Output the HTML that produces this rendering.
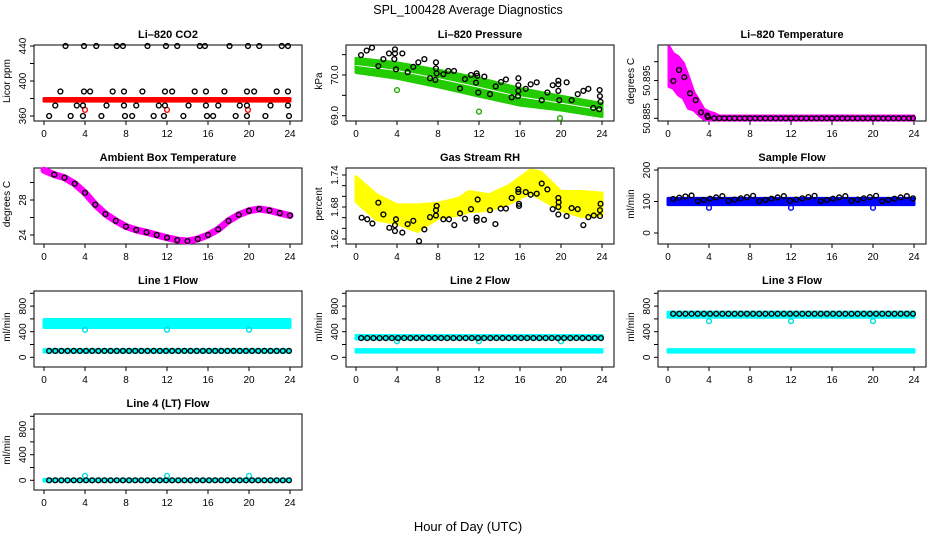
<!DOCTYPE html>
<html><head><meta charset="utf-8"><style>
html,body{margin:0;padding:0;background:#fff;}
svg{display:block;font-family:"Liberation Sans",sans-serif;}
</style></head><body>
<svg id="c" width="936" height="540" viewBox="0 0 936 540">
<text x="468" y="14" text-anchor="middle" font-size="12.5">SPL_100428  Average Diagnostics</text>
<text x="468" y="531" text-anchor="middle" font-size="13">Hour of Day (UTC)</text>
</svg>
<script>
// ---- data ----
const xTicks = [0,4,8,12,16,20,24];
// CO2
const co2BandHours = [0,24];
const co2BandLow = [377,377];
const co2BandHigh = [380,380];
const co2Hours = [2.1,3.9,5.1,7.1,7.7,10.1,11.9,13.0,15.2,15.7,18.1,19.9,21.0,23.2,23.8, 1.6,3.9,4.5,6.7,7.8,9.6,11.8,12.5,14.7,15.8,17.6,19.8,20.5,22.7,23.8, 1.1,3.2,3.8,6.1,7.8,9.0,11.2,11.8,14.1,15.8,17.0,19.1,19.8,22.1,23.8, 0.5,2.6,3.8,5.6,7.9,8.6,10.7,11.7,13.6,15.9,16.5,18.7,19.8,21.6,23.9];
const co2Values = [440,440,440,440,440,440,440,440,440,440,440,440,440,440,440, 388,388,388,388,388,388,388,388,388,388,388,388,388,388,388, 372,372,372,372,372,372,372,372,372,372,372,372,372,372,372, 360,360,360,360,360,360,360,360,360,360,360,360,360,360,360];
const co2OutHours = [4.0,12.0,19.9];
const co2OutValues = [367,367,367];
// Pressure
const presBandHours = [0,4,8,12,16,20,24];
const presBandHigh = [70.41,70.30,70.12,69.92,69.67,69.48,69.30];
const presBandLow = [70.06,69.92,69.71,69.48,69.26,69.14,68.98];
const presHours = [0.49,1.04,1.56,2.67,3.22,3.80,3.80,3.74,4.52,2.18,3.90,5.04,5.59,6.08,6.67,7.80,7.80,7.87,7.22,7.74,8.52,9.0,9.56,10.15,10.63,11.22,11.77,11.83,11.71,11.93,12.52,13.07,13.63,14.15,14.63,15.19,15.84,15.84,15.84,15.8,16.56,17.04,17.63,18.12,18.67,19.19,19.74,19.74,19.74,19.83,20.55,21.04,21.63,22.18,22.67,23.15,23.77,23.8,23.86,23.73];
const presValues = [70.49,70.60,70.67,70.39,70.53,70.63,70.53,70.39,70.53,70.22,70.14,70.07,70.20,70.31,70.39,70.31,70.16,70.04,69.92,69.88,70.02,70.10,70.10,69.67,69.90,70.0,70.04,69.98,69.81,69.57,69.96,69.53,69.72,69.83,69.89,69.45,69.92,69.75,69.61,69.48,69.66,69.77,69.82,69.38,69.57,69.75,69.86,69.77,69.61,69.38,69.82,69.38,69.53,69.61,69.66,69.19,69.63,69.48,69.34,69.16];
const presOutHours = [4.0,12.0,19.9];
const presOutValues = [69.63,69.10,68.94];
// Li-820 temperature
const tempBandHours = [0.1,0.5,1,1.5,2,2.5,3,3.5,4,4.5,5,24];
const tempBandHigh = [50.9040,50.9022,50.9013,50.8996,50.8960,50.8920,50.8898,50.8874,50.8867,50.8863,50.8856,50.8856];
const tempBandLow = [50.8934,50.8930,50.8912,50.8903,50.8876,50.8872,50.8859,50.8848,50.8845,50.8845,50.8845,50.8845];
const tempHours = [0.52,1.07,1.59,2.15,2.7,3.22,3.84,3.9,4.5,5.0,5.5,6.0,6.5,7.0,7.5,8.0,8.5,9.0,9.5,10.0,10.5,11.0,11.5,12.0,12.5,13.0,13.5,14.0,14.5,15.0,15.5,16.0,16.5,17.0,17.5,18.0,18.5,19.0,19.5,20.0,20.5,21.0,21.5,22.0,22.5,23.0,23.5,23.9];
const tempValues = [50.8949,50.8978,50.8959,50.8916,50.8898,50.8866,50.8857,50.8853,50.885,50.885,50.885,50.885,50.885,50.885,50.885,50.885,50.885,50.885,50.885,50.885,50.885,50.885,50.885,50.885,50.885,50.885,50.885,50.885,50.885,50.885,50.885,50.885,50.885,50.885,50.885,50.885,50.885,50.885,50.885,50.885,50.885,50.885,50.885,50.885,50.885,50.885,50.885,50.885];
// Ambient box temperature
const ambHours = [0,1,2,3,4,5,6,7,8,9,10,11,12,13,14,15,16,17,18,19,20,21,22,23,24];
const ambValues = [31.4,30.9,30.55,29.86,28.82,27.47,26.39,25.62,24.96,24.58,24.31,24.0,23.69,23.42,23.31,23.54,24.0,24.65,25.62,26.31,26.77,26.97,26.8,26.5,26.23];
// Gas stream RH
const rhBandHours = [0,2,4,6,8,10,11,13,15,17,18,20,22,24];
const rhBandHigh = [1.737,1.703,1.684,1.684,1.687,1.696,1.709,1.703,1.721,1.749,1.746,1.709,1.709,1.706];
const rhBandLow = [1.690,1.656,1.649,1.634,1.659,1.665,1.671,1.674,1.687,1.706,1.696,1.674,1.662,1.665];
const rhHours = [0.55,1.1,1.6,2.18,2.67,3.25,3.8,3.8,3.9,4.52,5.04,5.59,6.15,6.67,7.22,7.8,7.8,7.87,8.52,9.07,9.59,10.15,10.63,11.22,11.77,11.77,11.87,12.49,13.07,13.6,14.12,14.63,15.19,15.84,15.84,15.9,15.9,16.56,17.04,17.63,18.12,18.67,19.19,19.74,19.77,19.74,19.74,20.55,21.04,21.63,22.18,22.67,23.2,23.8,23.8,23.86];
const rhValues = [1.660,1.657,1.649,1.688,1.666,1.641,1.646,1.635,1.657,1.632,1.648,1.654,1.616,1.638,1.661,1.664,1.674,1.682,1.657,1.657,1.646,1.668,1.658,1.676,1.654,1.660,1.694,1.656,1.674,1.648,1.677,1.677,1.697,1.713,1.708,1.686,1.682,1.708,1.703,1.705,1.724,1.713,1.676,1.697,1.689,1.680,1.666,1.663,1.678,1.676,1.646,1.661,1.664,1.663,1.674,1.686];
// Flows
const flowHours = [0.5,1.1,1.7,2.3,2.9,3.5,4.1,4.7,5.3,5.9,6.5,7.1,7.7,8.3,8.9,9.5,10.1,10.7,11.3,11.9,12.5,13.1,13.7,14.3,14.9,15.5,16.1,16.7,17.3,17.9,18.5,19.1,19.7,20.3,20.9,21.5,22.1,22.7,23.3,23.9];
const sampleValues = [108,112,116,119,101,105,109,113,117,102,106,110,114,118,101,105,109,113,117,102,106,110,114,118,101,105,109,113,117,102,106,110,114,118,101,105,109,113,117,110];
const sampleBandLow = [90,90];
const sampleBandHigh = [110,110];
const line1Values = [100,100,100,100,100,100,100,100,100,100,100,100,100,100,100,100,100,100,100,100,100,100,100,100,100,100,100,100,100,100,100,100,100,100,100,100,100,100,100,100];
const line2Values = [300,300,300,300,300,300,300,300,300,300,300,300,300,300,300,300,300,300,300,300,300,300,300,300,300,300,300,300,300,300,300,300,300,300,300,300,300,300,300,300];
const line3Values = [680,680,680,680,680,680,680,680,680,680,680,680,680,680,680,680,680,680,680,680,680,680,680,680,680,680,680,680,680,680,680,680,680,680,680,680,680,680,680,680];
const line4Values = [0,0,0,0,0,0,0,0,0,0,0,0,0,0,0,0,0,0,0,0,0,0,0,0,0,0,0,0,0,0,0,0,0,0,0,0,0,0,0,0];
const bandHours = [0,24];
const line1UpperLow = [465,465], line1UpperHigh = [590,590], line1LowerLow = [80,80], line1LowerHigh = [120,120];
const line2UpperLow = [285,285], line2UpperHigh = [340,340], line2LowerLow = [80,80], line2LowerHigh = [120,120];
const line3UpperLow = [625,625], line3UpperHigh = [705,705], line3LowerLow = [80,80], line3LowerHigh = [120,120];
const line4UpperLow = [-12,-12], line4UpperHigh = [15,15];
const dipHours = [4.0,12.0,20.0];
const line1Dips = [430,430,430];
const line2Dips = [250,250,250];
const line3Dips = [565,565,565];
const line4Bumps = [70,70,70];
const sampleDips = [80,80,80];

// ---- drawing ----
const NS = 'http://www.w3.org/2000/svg';
const svg = document.getElementById('c');
const rowTops = [45,168,291,414];
function mk(tag, attrs, parent){ const e=document.createElementNS(NS,tag); for(const k in attrs) e.setAttribute(k,attrs[k]); (parent||svg).appendChild(e); return e; }
const labelsFmt = {pressure:v=>v.toFixed(1), temperature:v=>v.toFixed(3), rh:v=>v.toFixed(2)};

function panel(col,row,title,ylab,ticks,labels,v1,o1,v2,o2,slug){
  const L = 34+col*312, T = rowTops[row], W = 268, H = 76;
  const g = mk('g',{});
  
  
  const x = h => L+10+h*10.25;
  const y = v => T+o1+(v-v1)*(o2-o1)/(v2-v1);
  const box = mk('rect',{x:L,y:T,width:W,height:H,fill:'none',stroke:'#000','stroke-width':1},g);
  
  
  const t = mk('text',{x:L+W/2,y:T-7,'text-anchor':'middle','font-size':11,'font-weight':'bold'},g);
  t.textContent = title;
  
  
  const yl = mk('text',{x:0,y:0,'text-anchor':'middle','font-size':10,transform:`translate(${L-24},${T+H/2-2}) rotate(-90)`},g);
  yl.textContent = ylab;
  
  
  ticks.forEach(v=>{
    const py=y(v);
    mk('line',{x1:L-4,x2:L,y1:py,y2:py,stroke:'#000'},g);
    if(labels.indexOf(v)>=0){
      const tl = mk('text',{x:0,y:0,'text-anchor':'middle','font-size':10,transform:`translate(${L-8},${py}) rotate(-90)`},g);
      tl.textContent = labelsFmt[slug] ? labelsFmt[slug](v) : v;
      
      
    }
  });
  xTicks.forEach(h=>{
    const px=x(h);
    mk('line',{x1:px,x2:px,y1:T+H,y2:T+H+4,stroke:'#000'},g);
    const tl = mk('text',{x:px,y:T+H+16,'text-anchor':'middle','font-size':10},g);
    tl.textContent = h;
    
    
  });
  return {g,x,y};
}

function band(p,hours,lo,hi,color,name){
  const pts = hours.map((h,i)=>p.x(h)+','+p.y(hi[i])).concat(hours.slice().reverse().map((h,i)=>p.x(h)+','+p.y(lo[hours.length-1-i])));
  const e = mk('polygon',{points:pts.join(' '),fill:color,stroke:color,'stroke-width':3,'stroke-linejoin':'round'},p.g);
  
  
  return e;
}
function dots(p,hours,vals,color,name,sw){
  hours.forEach((h,i)=>{
    const c = mk('circle',{cx:p.x(h),cy:p.y(vals[i]),r:2.4,fill:'none',stroke:color,'stroke-width':sw||1.4},p.g);
    
    
  });
}
function line(p,hours,vals,color,w,name){
  const e = mk('polyline',{points:hours.map((h,i)=>p.x(h)+','+p.y(vals[i])).join(' '),fill:'none',stroke:color,'stroke-width':w,'stroke-linejoin':'round','stroke-linecap':'round'},p.g);
  
  
}

let p = panel(0,0,'Li\u2013820 CO2','Licor ppm',[360,380,400,420,440],[360,400,440],360,71,440,1,'co2');
band(p,co2BandHours,co2BandLow,co2BandHigh,'#ff0000','co2-band');
dots(p,co2OutHours,co2OutValues,'#ff0000','co2-outlier');
dots(p,co2Hours,co2Values,'#000','co2-point');

p = panel(1,0,'Li\u2013820 Pressure','kPa',[69.0,69.5,70.0,70.5],[69.0,70.0],69.0,70.7,70.0,30,'pressure');
band(p,presBandHours,presBandLow,presBandHigh,'#22cc00','pressure-band');
line(p,presBandHours,presBandHigh.map((v,i)=>(v+presBandLow[i])/2),'#ffffff',1,'pressure-band-gap');
dots(p,presOutHours,presOutValues,'#22aa00','pressure-outlier');
dots(p,presHours,presValues,'#000','pressure-point');

p = panel(2,0,'Li\u2013820 Temperature','degrees C',[50.885,50.890,50.895,50.900],[50.885,50.895],50.885,73.3,50.900,16.7,'temperature');
band(p,tempBandHours,tempBandLow,tempBandHigh,'#ff00ff','temperature-band');
dots(p,tempHours,tempValues,'#000','temperature-point');

p = panel(0,1,'Ambient Box Temperature','degrees C',[24,26,28,30],[24,28],24,67,28,32,'ambient');
line(p,ambHours,ambValues,'#ff00ff',7,'ambient-band');
dots(p,ambHours.slice(1),ambValues.slice(1),'#000','ambient-point');

p = panel(1,1,'Gas Stream RH','percent',[1.62,1.64,1.66,1.68,1.70,1.72,1.74],[1.62,1.68,1.74],1.62,71,1.74,7,'rh');
band(p,rhBandHours,rhBandLow,rhBandHigh,'#ffff00','rh-band');
dots(p,rhHours,rhValues,'#000','rh-point');

p = panel(2,1,'Sample Flow','ml/min',[0,100,200],[0,100,200],0,65,200,2,'sample');
band(p,bandHours,sampleBandLow,sampleBandHigh,'#0000ff','sample-band');
dots(p,dipHours,sampleDips,'#0000ff','sample-outlier');
dots(p,flowHours,sampleValues,'#000','sample-point');

const fT=[0,200,400,600,800,1000], fL=[0,400,800];
p = panel(0,2,'Line 1 Flow','ml/min',fT,fL,0,66.3,1000,2.3,'line1');
band(p,bandHours,line1UpperLow,line1UpperHigh,'#00ffff','line1-upper-band');
band(p,bandHours,line1LowerLow,line1LowerHigh,'#00ffff','line1-lower-band');
dots(p,dipHours,line1Dips,'#00dddd','line1-dip');
dots(p,flowHours,line1Values,'#000','line1-point');

p = panel(1,2,'Line 2 Flow','ml/min',fT,fL,0,66.3,1000,2.3,'line2');
band(p,bandHours,line2UpperLow,line2UpperHigh,'#00ffff','line2-upper-band');
band(p,bandHours,line2LowerLow,line2LowerHigh,'#00ffff','line2-lower-band');
dots(p,dipHours,line2Dips,'#00dddd','line2-dip');
dots(p,flowHours,line2Values,'#000','line2-point');

p = panel(2,2,'Line 3 Flow','ml/min',fT,fL,0,66.3,1000,2.3,'line3');
band(p,bandHours,line3UpperLow,line3UpperHigh,'#00ffff','line3-upper-band');
band(p,bandHours,line3LowerLow,line3LowerHigh,'#00ffff','line3-lower-band');
dots(p,dipHours,line3Dips,'#00dddd','line3-dip');
dots(p,flowHours,line3Values,'#000','line3-point');

p = panel(0,3,'Line 4 (LT) Flow','ml/min',fT,fL,0,66.3,1000,2.3,'line4');
band(p,bandHours,line4UpperLow,line4UpperHigh,'#00ffff','line4-band');
dots(p,dipHours,line4Bumps,'#00dddd','line4-bump');
dots(p,flowHours,line4Values,'#000','line4-point');
</script>
</body></html>
